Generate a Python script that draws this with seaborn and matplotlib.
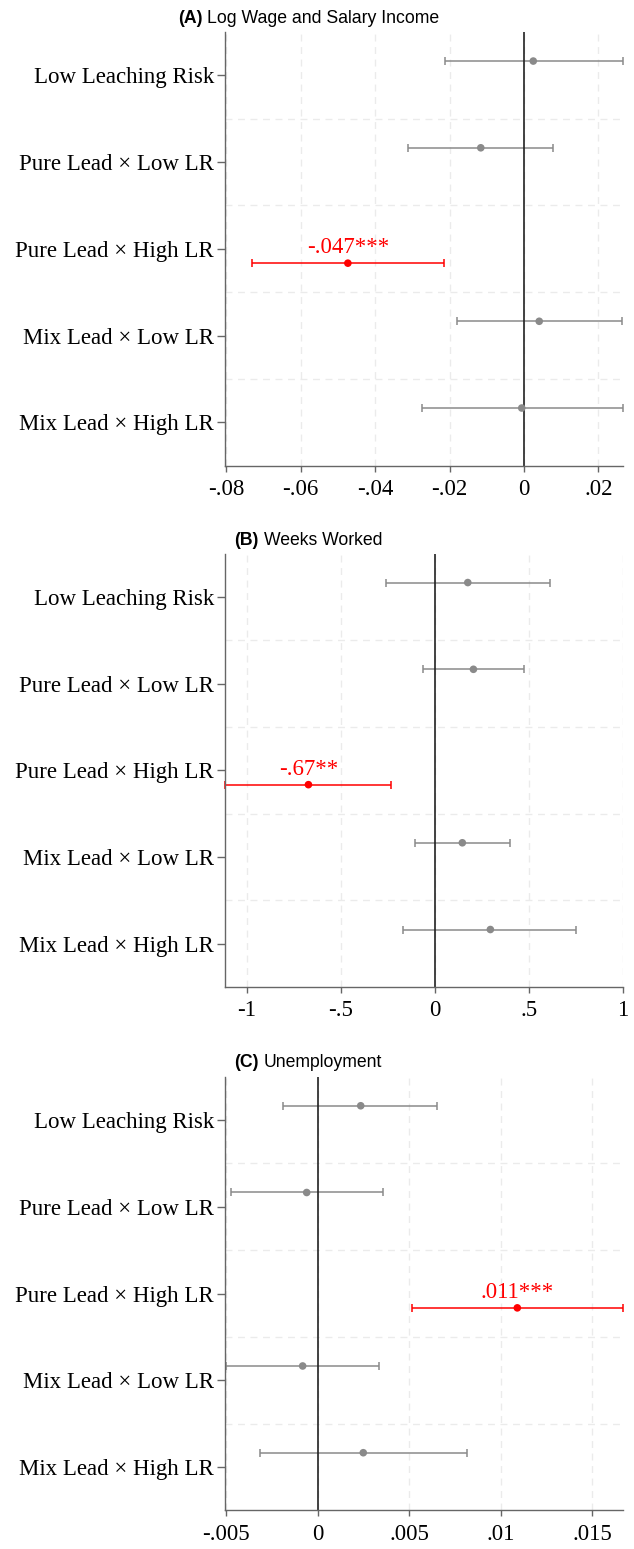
import numpy as np
import pandas as pd
import matplotlib
matplotlib.use("Agg")
import matplotlib.pyplot as plt
import seaborn as sns

# ---- data ----
categories = ["Low Leaching Risk", "Pure Lead \u00d7 Low LR", "Pure Lead \u00d7 High LR",
              "Mix Lead \u00d7 Low LR", "Mix Lead \u00d7 High LR"]
significant = [False, False, True, False, False]

wage_coef = [0.0025, -0.0116, -0.0473, 0.0041, -0.0006]
wage_lo = [-0.0212, -0.0312, -0.0731, -0.0179, -0.0275]
wage_hi = [0.0266, 0.0079, -0.0214, 0.0263, 0.0266]
wage_label = "-.047***"
wage_ticks = [-0.08, -0.06, -0.04, -0.02, 0, 0.02]
wage_ticklabels = ["-.08", "-.06", "-.04", "-.02", "0", ".02"]

weeks_coef = [0.175, 0.205, -0.672, 0.146, 0.295]
weeks_lo = [-0.261, -0.064, -1.115, -0.108, -0.167]
weeks_hi = [0.613, 0.475, -0.234, 0.397, 0.752]
weeks_label = "-.67**"
weeks_ticks = [-1, -0.5, 0, 0.5, 1]
weeks_ticklabels = ["-1", "-.5", "0", ".5", "1"]

unemp_coef = [0.00235, -0.0006, 0.0109, -0.00082, 0.00249]
unemp_lo = [-0.00187, -0.00473, 0.00514, -0.00502, -0.00313]
unemp_hi = [0.00653, 0.00358, 0.01665, 0.00334, 0.00813]
unemp_label = ".011***"
unemp_ticks = [-0.005, 0, 0.005, 0.01, 0.015]
unemp_ticklabels = ["-.005", "0", ".005", ".01", ".015"]

sns.set_style("white")
plt.rcParams["font.family"] = ["Liberation Serif", "DejaVu Serif"]
plt.rcParams["text.color"] = "black"
plt.rcParams["xtick.labelcolor"] = "black"
plt.rcParams["ytick.labelcolor"] = "black"

W, H = 634, 1549
fig = plt.figure(figsize=(W / 100, H / 100), dpi=100)

GRAY = "#8a8a8a"
RED = "#ff0000"
AX_COL = "#666666"
GRID_COL = "#ebebeb"


def draw_panel(ax, coef, lo, hi, label, ticks, ticklabels, xlim):
    df = pd.DataFrame({"cat": categories, "coef": coef, "lo": lo, "hi": hi,
                       "sig": significant})
    df["pos"] = np.arange(len(df)) + np.where(df["sig"], 0.165, -0.165)
    df["group"] = np.where(df["sig"], "sig", "ns")

    # grid
    for x in ticks:
        ax.axvline(x, color=GRID_COL, lw=1.0, ls=(0, (5, 4)), zorder=0)
    for y in np.arange(len(df) - 1) + 0.5:
        ax.axhline(y, color=GRID_COL, lw=1.0, ls=(0, (5, 4)), zorder=0)

    # confidence intervals
    for grp, col in [("ns", GRAY), ("sig", RED)]:
        d = df[df["group"] == grp]
        ax.errorbar(d["coef"], d["pos"],
                    xerr=[d["coef"] - d["lo"], d["hi"] - d["coef"]],
                    fmt="none", ecolor=col, elinewidth=1.1, capsize=3.2,
                    capthick=1.1, zorder=2, clip_on=False)

    ax.axvline(0, color="#222222", lw=1.2, zorder=2.5)

    sns.scatterplot(data=df, x="coef", y="pos", hue="group",
                    palette={"ns": GRAY, "sig": RED}, s=30, edgecolor="none",
                    legend=False, ax=ax, zorder=3)

    r = df[df["sig"]].iloc[0]
    ax.annotate(label, xy=(r["coef"], r["pos"]), xytext=(0, 7),
                textcoords="offset points", ha="center", va="baseline",
                color=RED, fontsize=16.5)

    ax.set_xlim(*xlim)
    ax.set_ylim(len(df) - 0.5, -0.5)
    ax.set_yticks(np.arange(len(df)))
    ax.set_yticklabels(categories, fontsize=16.5)
    ax.set_xticks(ticks)
    ax.set_xticklabels(ticklabels, fontsize=16.5)
    ax.set_xlabel("")
    ax.set_ylabel("")
    for s in ["top", "right"]:
        ax.spines[s].set_visible(False)
    for s in ["left", "bottom"]:
        ax.spines[s].set_color(AX_COL)
        ax.spines[s].set_linewidth(1.0)
    ax.tick_params(axis="y", length=6, width=1, color=AX_COL, pad=2, left=True)
    ax.tick_params(axis="x", length=4, width=1, color=AX_COL, pad=5.5, bottom=True)


def panel_title(tag, text, x_center_px, y_base_px):
    r = fig.canvas.get_renderer()
    t1 = fig.text(0, 0, tag, fontsize=12.7, fontweight="bold",
                  family="Liberation Sans", va="baseline", color="black")
    t2 = fig.text(0, 0, text, fontsize=12.7, family="Liberation Sans",
                  va="baseline", color="black")
    w1 = t1.get_window_extent(r).width
    w2 = t2.get_window_extent(r).width
    gap = 5
    x0 = x_center_px - (w1 + gap + w2) / 2
    y = 1 - y_base_px / H
    t1.set_position((x0 / W, y))
    t2.set_position(((x0 + w1 + gap) / W, y))


left, right, height = 225, 623, 433.7
panels = [
    (32.0, wage_coef, wage_lo, wage_hi, wage_label, wage_ticks, wage_ticklabels,
     (-0.0803, 0.0266), "(A)", "Log Wage and Salary Income", 22.7),
    (553.5, weeks_coef, weeks_lo, weeks_hi, weeks_label, weeks_ticks, weeks_ticklabels,
     (-1.1155, 1.0), "(B)", "Weeks Worked", 545.0),
    (1076.7, unemp_coef, unemp_lo, unemp_hi, unemp_label, unemp_ticks, unemp_ticklabels,
     (-0.00506, 0.01667), "(C)", "Unemployment", 1066.7),
]

for top, coef, lo, hi, label, ticks, tl, xlim, tag, title, ty in panels:
    ax = fig.add_axes([left / W, 1 - (top + height) / H, (right - left) / W, height / H])
    draw_panel(ax, coef, lo, hi, label, ticks, tl, xlim)
    panel_title(tag, title, 308.5, ty)

fig.savefig("out.png", dpi=100, facecolor="white")
